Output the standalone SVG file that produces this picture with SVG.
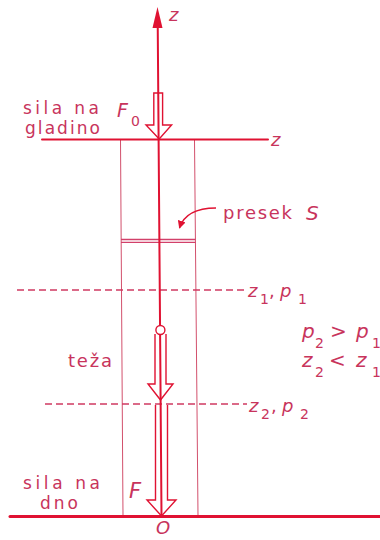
<svg xmlns="http://www.w3.org/2000/svg" width="380" height="540" viewBox="0 0 380 540">
<style>
  .main{stroke:#e01232;stroke-width:2;fill:none;stroke-linecap:round}
  .thin{stroke:#d2506c;stroke-width:1;fill:none}
  .dash{stroke:#d03a62;stroke-width:1.3;fill:none;stroke-dasharray:7 4}
  .hollow{stroke:#e01232;stroke-width:1.4;fill:none;stroke-linejoin:miter}
  text{font-family:"DejaVu Sans","Liberation Sans",sans-serif;fill:#c8345c;font-size:18px}
  .lbl{font-size:17px}
  .it{font-style:italic}
  .sub{font-size:14px}
</style>
<defs>
  <marker id="tri" viewBox="0 0 10 10" refX="9" refY="5" markerWidth="8" markerHeight="8" markerUnits="userSpaceOnUse" orient="auto">
    <path d="M0,0 L10,5 L0,10 Z" fill="#e01232"/>
  </marker>
</defs>

<g id="container">
  <line class="thin" x1="120.5" y1="140" x2="123" y2="516"/>
  <line class="thin" x1="194.5" y1="140" x2="198" y2="516"/>
</g>

<g id="levels">
  <line class="dash" x1="17" y1="290" x2="246" y2="290"/>
  <line class="dash" x1="45" y1="404" x2="247" y2="404"/>
</g>

<g id="section">
  <line stroke="#d2406a" stroke-width="1.3" x1="121" y1="239.5" x2="195.5" y2="239.5"/>
  <line stroke="#d2406a" stroke-width="1.3" x1="121" y1="242.3" x2="195.5" y2="242.3"/>
</g>

<g id="surface">
  <line class="main" x1="42" y1="139.5" x2="268" y2="139.5"/>
</g>

<g id="bottom">
  <line class="main" style="stroke-width:3" x1="10" y1="516.5" x2="380" y2="516.5"/>
</g>

<g id="connectors">
  <line id="axis" class="main" x1="157.7" y1="22" x2="161.5" y2="516"/>
  <polygon points="157.5,7 162.5,28 152.5,28" fill="#e01232"/>
  <path id="presek-arrow" d="M216,208 C198,208 184,214 179.5,228" stroke="#e01232" stroke-width="1.4" fill="none" marker-end="url(#tri)"/>
</g>

<g id="F0-arrow">
  <path class="hollow" d="M153.8,93 H162.6 V125 H171.6 L159.2,139 L146,125 H153.8 Z"/>
</g>

<g id="weight-arrow">
  <path class="hollow" d="M155,334 V384 H148 L160.5,400 L173,384 H166 V334"/>
  <circle cx="160.4" cy="330" r="4.5" fill="#fff" stroke="#e01232" stroke-width="1.4"/>
</g>

<g id="F-arrow">
  <path class="hollow" d="M155.5,405 V500 H147 L161.5,516 L176,500 H167.5 V405"/>
</g>

<g id="labels">
  <text class="it" x="169" y="21">z</text>
  <text class="it" x="271" y="146">z</text>

  <text class="lbl" x="23" y="114" textLength="76" lengthAdjust="spacing">sila na</text>
  <text class="lbl" x="25" y="134" textLength="75" lengthAdjust="spacing">gladino</text>
  <text class="it" x="117" y="117" style="font-size:19px">F</text>
  <text x="131" y="126" class="sub">0</text>

  <text x="223" y="219" textLength="69" lengthAdjust="spacing">presek</text>
  <text class="it" x="306" y="220" style="font-size:20px">S</text>

  <text class="it" x="248" y="297">z</text>
  <text class="sub" x="260" y="304">1</text>
  <text x="269" y="297">,</text>
  <text class="it" x="280" y="297">p</text>
  <text class="sub" x="298" y="304">1</text>

  <text class="it" x="302" y="338" style="font-size:20px">p</text>
  <text class="sub" x="315" y="348">2</text>
  <text x="330" y="338" style="font-size:20px">&gt;</text>
  <text class="it" x="356" y="338" style="font-size:20px">p</text>
  <text class="sub" x="372" y="348">1</text>

  <text class="it" x="302" y="367" style="font-size:20px">z</text>
  <text class="sub" x="315" y="377">2</text>
  <text x="329" y="367" style="font-size:20px">&lt;</text>
  <text class="it" x="356" y="367" style="font-size:20px">z</text>
  <text class="sub" x="372" y="377">1</text>

  <text x="68" y="367" textLength="44" lengthAdjust="spacing">teža</text>

  <text class="it" x="249" y="412">z</text>
  <text class="sub" x="261" y="419">2</text>
  <text x="271" y="412">,</text>
  <text class="it" x="282" y="412">p</text>
  <text class="sub" x="300" y="419">2</text>

  <text class="lbl" x="23" y="489" textLength="77" lengthAdjust="spacing">sila na</text>
  <text class="lbl" x="40" y="509" textLength="38" lengthAdjust="spacing">dno</text>
  <text class="it" x="129" y="498" style="font-size:21px">F</text>
  <text class="it" x="156" y="534" style="font-size:18px">O</text>
</g>
</svg>
